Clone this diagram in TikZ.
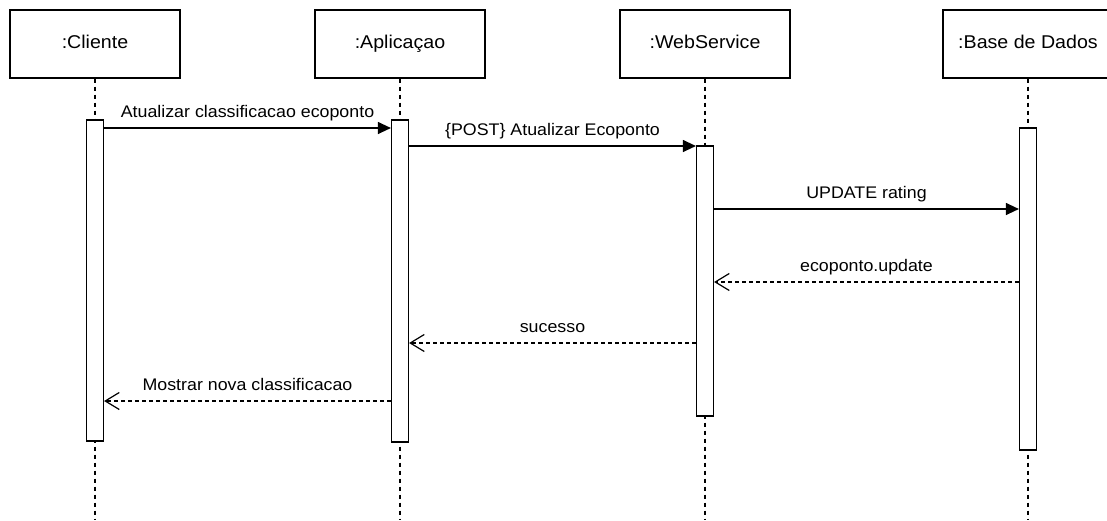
\documentclass[tikz,border=0pt]{standalone}
\usepackage{fontspec}
\setmainfont{Liberation Sans}[FakeStretch=1.06]
\usetikzlibrary{arrows.meta}

\begin{document}
\begin{tikzpicture}[
  x=1pt, y=-1pt,
  obj/.style={draw, line width=1.2pt, minimum width=170pt, minimum height=68pt,
              text height=13.5pt, text depth=4pt,
              font=\fontsize{18.5}{22}\selectfont},
  act/.style={draw, fill=white, line width=1.2pt, minimum width=17pt, inner sep=0pt},
  life/.style={line width=1.2pt, dash pattern=on 4pt off 4pt},
  call/.style={line width=1.2pt, -{Triangle[length=13pt, width=12pt]}},
  reply/.style={line width=1.2pt, dash pattern=on 3.5pt off 3.5pt,
                -{Straight Barb[length=14pt, width=17pt, line width=1.2pt]}},
  lbl/.style={font=\fontsize{16.8}{20}\selectfont, text height=12pt, text depth=3.5pt,
              above=3pt}
]
\clip (0,0) rectangle (1107,520);

% objects
\node[obj] (cli) at (95,44) {:Cliente};
\node[obj] (app) at (400,44) {:Aplicaçao};
\node[obj] (ws) at (705,44) {:WebService};
\node[obj] (db) at (1028,44) {:Base de Dados};

% lifelines
\coordinate (cliEnd) at (95,520);
\coordinate (appEnd) at (400,520);
\coordinate (wsEnd) at (705,520);
\coordinate (dbEnd) at (1028,520);
\draw[life] (cli) -- (cliEnd);
\draw[life] (app) -- (appEnd);
\draw[life] (ws) -- (wsEnd);
\draw[life] (db) -- (dbEnd);

% activation bars
\node[act, minimum height=321pt] (actC) at (95,280.5) {};
\node[act, minimum height=322pt] (actA) at (400,281) {};
\node[act, minimum height=270pt] (actW) at (705,281) {};
\node[act, minimum height=322pt] (actB) at (1028,289) {};

% messages
\draw[call] (actC.east |- 0,128) -- (actA.west |- 0,128)
  node[midway, lbl] {Atualizar classificacao ecoponto};
\draw[call] (actA.east |- 0,146) -- (actW.west |- 0,146)
  node[midway, lbl] {\{POST\} Atualizar Ecoponto};
\draw[call] (actW.east |- 0,209) -- (actB.west |- 0,209)
  node[midway, lbl] {UPDATE rating};
\draw[reply] (actB.west |- 0,282) -- (actW.east |- 0,282)
  node[midway, lbl] {ecoponto.update};
\draw[reply] (actW.west |- 0,343) -- (actA.east |- 0,343)
  node[midway, lbl] {sucesso};
\draw[reply] (actA.west |- 0,401) -- (actC.east |- 0,401)
  node[midway, lbl] {Mostrar nova classificacao};
\end{tikzpicture}
\end{document}
